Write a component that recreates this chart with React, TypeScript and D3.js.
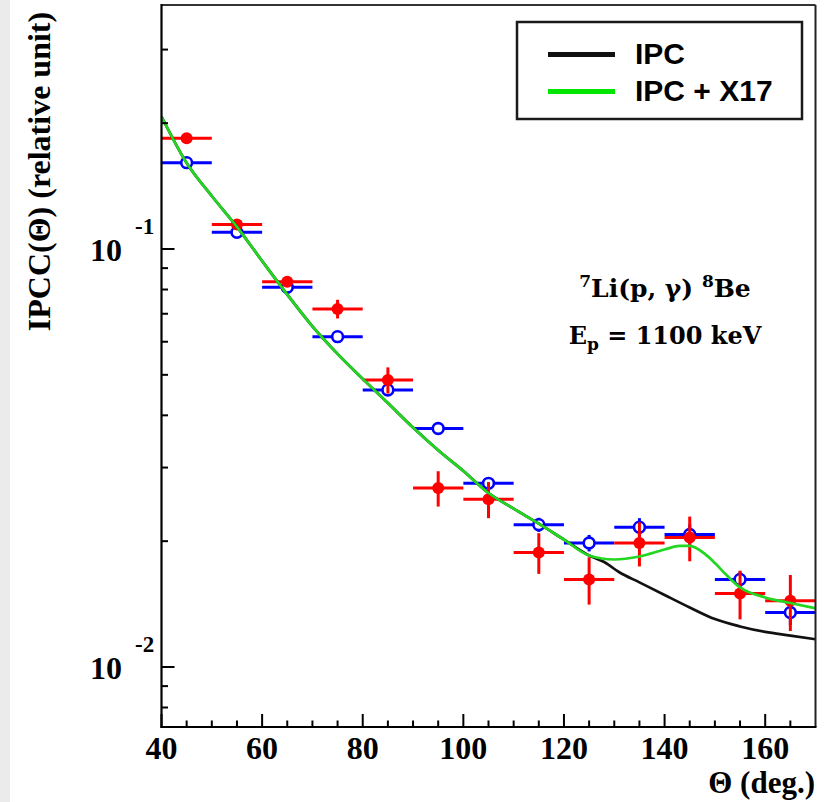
import React from "react";
import * as d3 from "d3";

// ---- data ----
const thetas = [45, 55, 65, 75, 85, 95, 105, 115, 125, 135, 145, 155, 165];
const thetaErrors = [5, 5, 5, 5, 5, 5, 5, 5, 5, 5, 5, 5, 5];
const redValues = [0.184, 0.1144, 0.0835, 0.0719, 0.0486, 0.0268, 0.0252, 0.0188, 0.0162, 0.0198, 0.0204, 0.0150, 0.0144];
const redErrors = [0.005, 0.002, 0.0018, 0.0037, 0.0035, 0.0026, 0.0025, 0.0021, 0.0021, 0.0024, 0.0025, 0.0020, 0.0022];
const blueValues = [0.1609, 0.1096, 0.081, 0.0617, 0.046, 0.0372, 0.0275, 0.0219, 0.0198, 0.0216, 0.02075, 0.0162, 0.0135];
const blueErrors = [0.0036, 0.0024, 0.0018, 0.0014, 0.0013, 0.001, 0.0009, 0.00085, 0.0009, 0.0011, 0.0012, 0.0007, 0.0009];

const x17Theta = [40, 45, 50, 55, 60, 65, 70, 75, 80, 85, 90, 95, 100, 105, 110, 115, 120, 125, 130, 135, 140, 143, 145, 148, 150, 152, 155, 160, 165, 170];
const x17Values = [0.2075, 0.1606, 0.1339, 0.113, 0.0936, 0.0778, 0.0653, 0.0561, 0.0489, 0.0428, 0.0374, 0.033, 0.02944, 0.02608, 0.02393, 0.02202, 0.02017, 0.01848, 0.01808, 0.01838, 0.0191, 0.01948, 0.01948, 0.01864, 0.01773, 0.01674, 0.0155, 0.01467, 0.01423, 0.01382];
const ipcTheta = [40, 45, 50, 55, 60, 65, 70, 75, 80, 85, 90, 95, 100, 105, 110, 115, 120, 125, 128, 131, 135, 140, 145, 150, 155, 160, 165, 170];
const ipcValues = [0.2075, 0.1606, 0.1339, 0.113, 0.0936, 0.0778, 0.0653, 0.0561, 0.0489, 0.0428, 0.0374, 0.033, 0.02944, 0.02608, 0.02393, 0.02202, 0.02017, 0.01848, 0.01783, 0.01685, 0.01594, 0.01487, 0.01388, 0.01302, 0.0125, 0.01213, 0.01189, 0.01165];

const xMajorTicks = [40, 60, 80, 100, 120, 140, 160];
const yMajorTicks = [0.01, 0.1];
const yTickExponents = ["-2", "-1"];
const legendLabels = ["IPC", "IPC + X17"];

const W = 831;
const H = 802;
const L = 161.5, R = 815.5, T = 5, B = 727;

const x = d3.scaleLinear().domain([40, 170]).range([L, R]);
const y = d3.scaleLog().domain([0.007185, 0.3835]).range([B, T]);

const RED = "#ff0000";
const BLUE = "#0000ff";
const GREEN = "#22d622";
const serif = "'Liberation Serif', 'Times New Roman', serif";
const sans = "'Liberation Sans', Arial, sans-serif";

export default function App() {
  const line = d3
    .line<[number, number]>()
    .x((d) => x(d[0]))
    .y((d) => y(d[1]))
    .curve(d3.curveMonotoneX);
  const ipcPath = line(ipcTheta.map((t, i) => [t, ipcValues[i]]));
  const x17Path = line(x17Theta.map((t, i) => [t, x17Values[i]]));

  const xMinor = d3.range(45, 170, 5).filter((t) => !xMajorTicks.includes(t));
  const yMinor: number[] = [];
  [0.001, 0.01, 0.1].forEach((dec) => {
    for (let k = 2; k <= 9; k++) {
      const v = k * dec;
      if (v > y.domain()[0] && v < y.domain()[1]) yMinor.push(v);
    }
  });

  const errBars = (vals: number[], errs: number[], color: string, key: string) =>
    thetas.map((t, i) => (
      <g key={key + i} stroke={color} strokeWidth={3}>
        <line x1={x(Math.max(40, t - thetaErrors[i]))} x2={x(Math.min(170, t + thetaErrors[i]))} y1={y(vals[i])} y2={y(vals[i])} />
        <line x1={x(t)} x2={x(t)} y1={y(vals[i] + errs[i])} y2={y(vals[i] - errs[i])} />
      </g>
    ));

  return (
    <svg width={W} height={H} style={{ position: "absolute", left: 0, top: 0, background: "#fff" }}>
      <rect x={0} y={0} width={W} height={H} fill="#fff" />
      <rect x={0} y={0} width={10} height={H} fill="#ebebeb" />
      <defs>
        <clipPath id="plotclip">
          <rect x={L} y={T} width={R - L} height={B - T} />
        </clipPath>
      </defs>

      {/* data points */}
      <g clipPath="url(#plotclip)">
        {errBars(blueValues, blueErrors, BLUE, "b")}
        {thetas.map((t, i) => (
          <circle key={"bc" + i} cx={x(t)} cy={y(blueValues[i])} r={5.4} fill="#fff" stroke={BLUE} strokeWidth={2.6} />
        ))}
        {errBars(redValues, redErrors, RED, "r")}
        {thetas.map((t, i) => (
          <circle key={"rc" + i} cx={x(t)} cy={y(redValues[i])} r={6} fill={RED} />
        ))}
        <path d={ipcPath || ""} fill="none" stroke="#111" strokeWidth={2.7} />
        <path d={x17Path || ""} fill="none" stroke={GREEN} strokeWidth={2.7} />
      </g>

      {/* frame */}
      <line x1={L} x2={R} y1={T} y2={T} stroke="#333" strokeWidth={2} />
      <line x1={R} x2={R} y1={T} y2={B} stroke="#222" strokeWidth={2} />
      <line x1={L} x2={L} y1={T - 1} y2={B + 1} stroke="#000" strokeWidth={2.2} />
      <line x1={L - 1} x2={R + 1} y1={B} y2={B} stroke="#000" strokeWidth={2.2} />

      {/* x ticks */}
      {xMajorTicks.map((t) => (
        <g key={"xt" + t}>
          <line x1={x(t)} x2={x(t)} y1={B} y2={B - 13} stroke="#000" strokeWidth={2} />
          <text x={x(t)} y={759} textAnchor="middle" fontFamily={serif} fontWeight="bold" fontSize={32}>
            {t}
          </text>
        </g>
      ))}
      {xMinor.map((t) => (
        <line key={"xm" + t} x1={x(t)} x2={x(t)} y1={B} y2={B - 6.5} stroke="#000" strokeWidth={2} />
      ))}

      {/* y ticks */}
      {yMajorTicks.map((v, i) => (
        <g key={"yt" + v}>
          <line x1={L} x2={L + 13} y1={y(v)} y2={y(v)} stroke="#000" strokeWidth={2} />
          <text x={122} y={y(v) + 12} textAnchor="end" fontFamily={serif} fontWeight="bold" fontSize={32}>
            10
          </text>
          <text x={135} y={y(v) - 15} textAnchor="start" fontFamily={serif} fontWeight="bold" fontSize={23}>
            {yTickExponents[i]}
          </text>
        </g>
      ))}
      {yMinor.map((v) => (
        <line key={"ym" + v} x1={L} x2={L + 6.5} y1={y(v)} y2={y(v)} stroke="#000" strokeWidth={2} />
      ))}

      {/* axis titles */}
      <text
        transform="translate(50,171.5) rotate(-90)"
        textAnchor="middle"
        fontFamily={serif}
        fontWeight="bold"
        fontSize={32}
      >
        IPCC(Θ) (relative unit)
      </text>
      <text x={815} y={793} textAnchor="end" fontFamily={serif} fontWeight="bold" fontSize={31}>
        Θ (deg.)
      </text>

      {/* legend */}
      <rect x={517} y={22} width={285} height={97} fill="#fff" stroke="#1a1a1a" strokeWidth={2.5} />
      <line x1={548} x2={615} y1={54.5} y2={54.5} stroke="#111" strokeWidth={5} />
      <line x1={548} x2={615} y1={91.5} y2={91.5} stroke="#00e600" strokeWidth={5} />
      <text x={635} y={63.5} fontFamily={sans} fontWeight="bold" fontSize={30}>
        {legendLabels[0]}
      </text>
      <text x={635} y={101} fontFamily={sans} fontWeight="bold" fontSize={30}>
        {legendLabels[1]}
      </text>

      {/* annotation */}
      <text x={665} y={297} textAnchor="middle" fontFamily="'DejaVu Serif', serif" fontWeight="bold" fontSize={25}>
        <tspan fontSize={17} dy={-10}>7</tspan>
        <tspan dy={10}>Li(p, γ) </tspan>
        <tspan fontSize={17} dy={-10}>8</tspan>
        <tspan dy={10}>Be</tspan>
      </text>
      <text x={665} y={344} textAnchor="middle" fontFamily="'DejaVu Serif', serif" fontWeight="bold" fontSize={24}>
        <tspan>E</tspan>
        <tspan fontSize={17} dy={6}>p</tspan>
        <tspan dy={-6}> = 1100 keV</tspan>
      </text>
    </svg>
  );
}
